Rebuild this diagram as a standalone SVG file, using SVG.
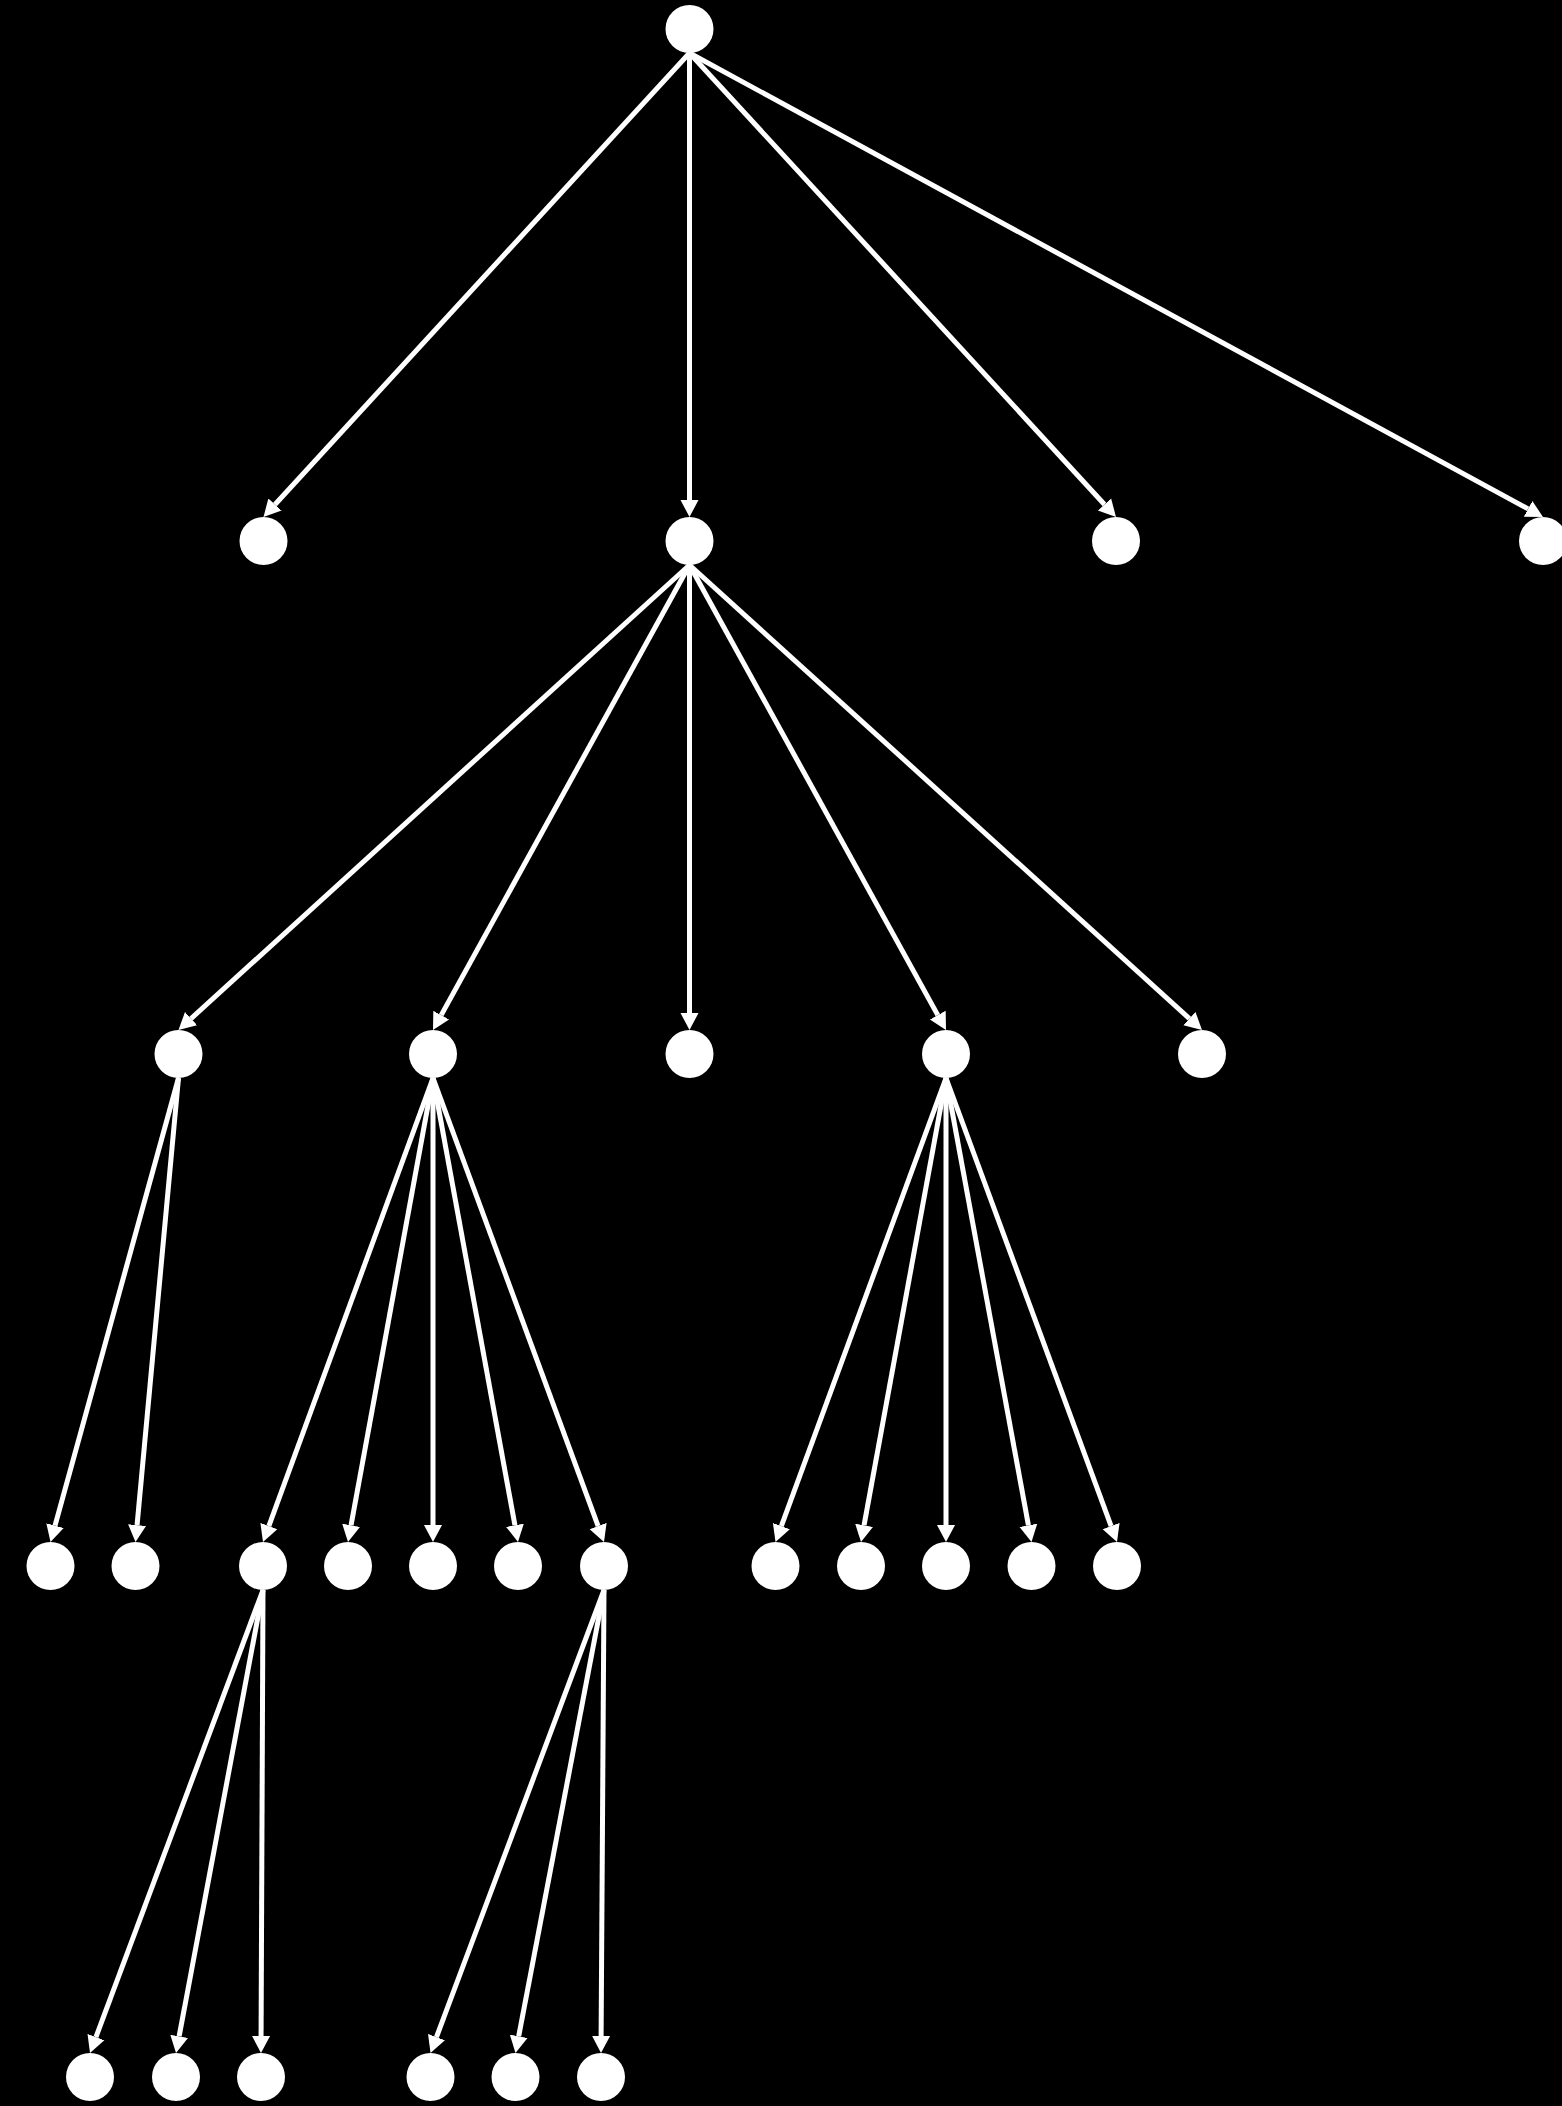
<svg xmlns="http://www.w3.org/2000/svg" width="1562" height="2106" viewBox="0 0 1562 2106">
<style>
.n{fill:#fff;stroke:none}
.e line{stroke:#fff;stroke-width:5;fill:none;marker-end:url(#ah)}
</style>
<defs>
<marker id="ah" viewBox="0 -10 20 20" refX="0" refY="0" markerWidth="20" markerHeight="20" markerUnits="userSpaceOnUse" orient="auto">
<path d="M0,-9 L17,0 L0,9 Z" fill="#fff"/>
</marker>
</defs>
<rect width="1562" height="2106" fill="#000"/>
<g id="edges" class="e">
<line x1="689.5" y1="53" x2="275" y2="504.48"/>
<line x1="689.5" y1="53" x2="689.5" y2="500"/>
<line x1="689.5" y1="53" x2="1104.49" y2="504.48"/>
<line x1="689.5" y1="53" x2="1528.07" y2="508.88"/>
<line x1="689.5" y1="565" x2="191.07" y2="1018.56"/>
<line x1="689.5" y1="565" x2="441.21" y2="1015.11"/>
<line x1="689.5" y1="565" x2="689.5" y2="1013"/>
<line x1="689.5" y1="565" x2="937.79" y2="1015.11"/>
<line x1="689.5" y1="565" x2="1189.41" y2="1018.58"/>
<line x1="178.5" y1="1078" x2="55.02" y2="1525.61"/>
<line x1="178.5" y1="1078" x2="137.07" y2="1525.07"/>
<line x1="433" y1="1078" x2="268.85" y2="1526.04"/>
<line x1="433" y1="1078" x2="351.06" y2="1525.28"/>
<line x1="433" y1="1078" x2="433" y2="1525"/>
<line x1="433" y1="1078" x2="514.94" y2="1525.28"/>
<line x1="433" y1="1078" x2="598.12" y2="1526.05"/>
<line x1="946" y1="1078" x2="781.36" y2="1526.04"/>
<line x1="946" y1="1078" x2="864.06" y2="1525.28"/>
<line x1="946" y1="1078" x2="946" y2="1525"/>
<line x1="946" y1="1078" x2="1028.42" y2="1525.28"/>
<line x1="946" y1="1078" x2="1111.12" y2="1526.05"/>
<line x1="263" y1="1590" x2="95.95" y2="2037.08"/>
<line x1="263" y1="1590" x2="179.14" y2="2036.29"/>
<line x1="263" y1="1590" x2="261.07" y2="2036"/>
<line x1="604" y1="1590" x2="436.47" y2="2037.08"/>
<line x1="604" y1="1590" x2="518.69" y2="2036.3"/>
<line x1="604" y1="1590" x2="601.11" y2="2036"/>
</g>
<g id="R"><circle class="n" cx="689.5" cy="29" r="24"/></g>
<g id="A1"><circle class="n" cx="263.5" cy="541" r="24"/></g>
<g id="A2"><circle class="n" cx="689.5" cy="541" r="24"/></g>
<g id="A3"><circle class="n" cx="1116" cy="541" r="24"/></g>
<g id="A4"><circle class="n" cx="1543" cy="541" r="24"/></g>
<g id="B1"><circle class="n" cx="178.5" cy="1054" r="24"/></g>
<g id="B2"><circle class="n" cx="433" cy="1054" r="24"/></g>
<g id="B3"><circle class="n" cx="689.5" cy="1054" r="24"/></g>
<g id="B4"><circle class="n" cx="946" cy="1054" r="24"/></g>
<g id="B5"><circle class="n" cx="1202" cy="1054" r="24"/></g>
<g id="C1"><circle class="n" cx="50.5" cy="1566" r="24"/></g>
<g id="C2"><circle class="n" cx="135.5" cy="1566" r="24"/></g>
<g id="C3"><circle class="n" cx="263" cy="1566" r="24"/></g>
<g id="C4"><circle class="n" cx="348" cy="1566" r="24"/></g>
<g id="C5"><circle class="n" cx="433" cy="1566" r="24"/></g>
<g id="C6"><circle class="n" cx="518" cy="1566" r="24"/></g>
<g id="C7"><circle class="n" cx="604" cy="1566" r="24"/></g>
<g id="C8"><circle class="n" cx="775.5" cy="1566" r="24"/></g>
<g id="C9"><circle class="n" cx="861" cy="1566" r="24"/></g>
<g id="C10"><circle class="n" cx="946" cy="1566" r="24"/></g>
<g id="C11"><circle class="n" cx="1031.5" cy="1566" r="24"/></g>
<g id="C12"><circle class="n" cx="1117" cy="1566" r="24"/></g>
<g id="D1"><circle class="n" cx="90" cy="2077" r="24"/></g>
<g id="D2"><circle class="n" cx="176" cy="2077" r="24"/></g>
<g id="D3"><circle class="n" cx="261" cy="2077" r="24"/></g>
<g id="D4"><circle class="n" cx="430.5" cy="2077" r="24"/></g>
<g id="D5"><circle class="n" cx="515.5" cy="2077" r="24"/></g>
<g id="D6"><circle class="n" cx="601" cy="2077" r="24"/></g>
</svg>
